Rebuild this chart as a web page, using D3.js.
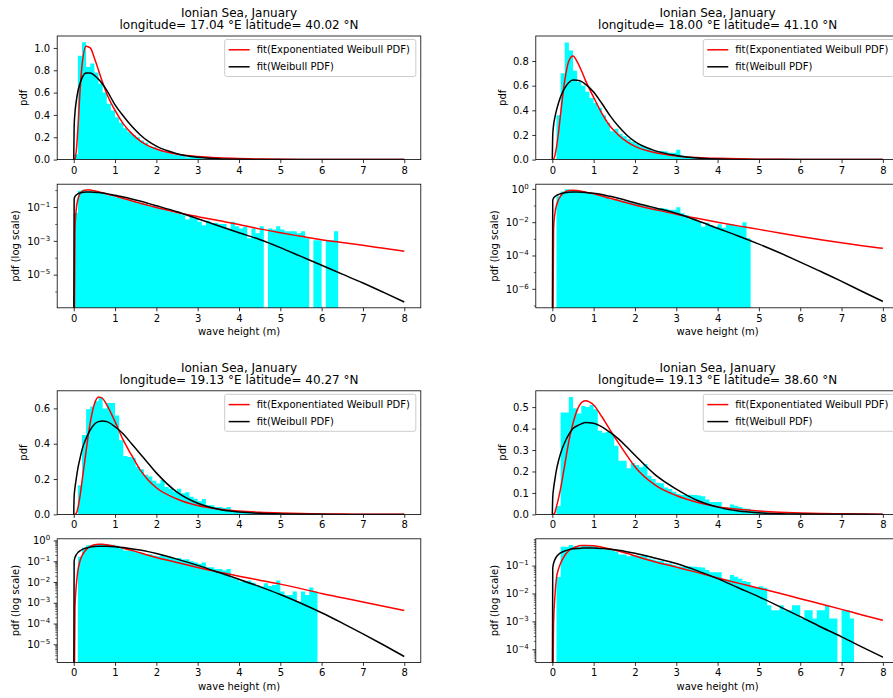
<!DOCTYPE html>
<html>
<head>
<meta charset="utf-8">
<script src="https://cdn.jsdelivr.net/npm/d3@7"></script>
<style>
  body { margin: 0; background: #fff; }
  svg { display: block; }
  text { font-family: 'DejaVu Sans', sans-serif; }
</style>
</head>
<body>
<svg id="chart" width="893" height="698"></svg>
<script>
// ---------------- DATA ----------------
const titleLine1 = ["Ionian Sea, January", "Ionian Sea, January", "Ionian Sea, January", "Ionian Sea, January"];
const titleLine2 = [
  "longitude= 17.04 °E latitude= 40.02 °N",
  "longitude= 18.00 °E latitude= 41.10 °N",
  "longitude= 19.13 °E latitude= 40.27 °N",
  "longitude= 19.13 °E latitude= 38.60 °N"
];
const legendLabels = ["fit(Exponentiated Weibull PDF)", "fit(Weibull PDF)"];
const xLabel = "wave height (m)";
const yLabelLin = "pdf";
const yLabelLog = "pdf (log scale)";

const xTicks = [0, 1, 2, 3, 4, 5, 6, 7, 8];
const xDomain = [-0.4, 8.4];

// histogram densities, bins of width 0.1 starting at 0.0
const histStart = 0.0;
const binWidth = 0.1;
const hist1 = [0.045, 0.93, 1.05, 0.83, 0.86, 0.78, 0.68, 0.6, 0.5, 0.44,
  0.38, 0.33, 0.28, 0.25, 0.22, 0.2, 0.17, 0.15, 0.12, 0.11,
  0.09, 0.078, 0.066, 0.055, 0.046, 0.04, 0.033, 0.0186, 0.027, 0.021,
  0.0135, 0.0085, 0.0155, 0.0107, 0.0117, 0.0098, 0.0098, 0.0054, 0.0135, 0.0074,
  0.0054, 0.0068, 0.0014, 0.0054, 0.0028, 0.0074, 0, 0.0054, 0.0047, 0.0074,
  0.0047, 0.0037, 0.0037, 0.0037, 0.0028, 0.0037, 0.0014, 0, 0.0011, 0.0011,
  0, 0.0011, 0.0011, 0.0037];
const hist2 = [0, 0.36, 0.70, 0.95, 0.885, 0.72, 0.63, 0.6, 0.55, 0.5,
  0.46, 0.42, 0.36, 0.3, 0.23, 0.25, 0.21, 0.19, 0.165, 0.145,
  0.13, 0.115, 0.1, 0.088, 0.075, 0.065, 0.07, 0.065, 0.055, 0.055,
  0.08, 0.034, 0.027, 0.015, 0.017, 0.011, 0.0054, 0.0093, 0.0068, 0.0054,
  0.0074, 0.0047, 0.0074, 0.0074, 0.0062, 0.0054, 0.0098, 0.0011];
const hist3 = [0, 0.165, 0.45, 0.595, 0.61, 0.64, 0.665, 0.6, 0.63, 0.63,
  0.56, 0.42, 0.33, 0.325, 0.32, 0.27, 0.255, 0.225, 0.215, 0.19,
  0.175, 0.195, 0.155, 0.145, 0.13, 0.145, 0.12, 0.125, 0.1, 0.088,
  0.075, 0.087, 0.052, 0.052, 0.042, 0.042, 0.036, 0.042, 0.015, 0.0137,
  0.0105, 0.0105, 0.0118, 0.0093, 0.0072, 0.006, 0.0087, 0.0065, 0.0072, 0.0118,
  0.0035, 0.0024, 0.0024, 0.0035, 0.00115, 0.0035, 0.0024, 0.0054, 0.0035];
const hist4 = [0, 0.039, 0.475, 0.475, 0.547, 0.495, 0.47, 0.505, 0.5, 0.51,
  0.49, 0.39, 0.38, 0.385, 0.375, 0.32, 0.25, 0.25, 0.215, 0.24,
  0.23, 0.22, 0.235, 0.18, 0.165, 0.148, 0.145, 0.125, 0.118, 0.105,
  0.095, 0.09, 0.09, 0.092, 0.09, 0.088, 0.085, 0.07, 0.058, 0.058,
  0.058, 0.034, 0.032, 0.046, 0.04, 0.034, 0.028, 0.026, 0.017, 0.017,
  0.018, 0.016, 0.0038, 0.0025, 0.0025, 0.0038, 0.0025, 0.0025, 0.0038, 0.0038,
  0.00126, 0.0025, 0.0025, 0.00126, 0.0025, 0.0025, 0.0038, 0.00126, 0.00126, 0,
  0.0025, 0.0025, 0.00126];

const curveX = [0, 0.01, 0.03, 0.06, 0.1, 0.15, 0.2, 0.3, 0.4, 0.5, 0.6, 0.7, 0.8, 1.0, 1.2, 1.4, 1.6, 1.8, 2.0,
  2.5, 3.0, 3.5, 4.0, 4.5, 5.0, 5.5, 6.0, 6.5, 7.0, 7.5, 8.0];
const expWeibull1 = [0, 0, 0.004, 0.07, 0.27, 0.6, 0.84, 1.015, 1.0, 0.91, 0.8, 0.69, 0.59, 0.44, 0.32, 0.235, 0.17, 0.125, 0.095,
  0.048, 0.027, 0.0158, 0.0093, 0.0051, 0.003, 0.00186, 0.00117, 7.9e-4, 5.4e-4, 3.6e-4, 2.45e-4];
const weibull1 = [0, 0.29, 0.42, 0.52, 0.61, 0.68, 0.73, 0.775, 0.775, 0.755, 0.72, 0.675, 0.62, 0.49, 0.39, 0.30, 0.225, 0.165, 0.12,
  0.053, 0.0204, 0.0078, 0.003, 0.0012, 4.0e-4, 1.2e-4, 3.6e-5, 1.07e-5, 3.2e-6, 8.9e-7, 2.4e-7];
const expWeibull2 = [0, 0, 0.004, 0.03, 0.1, 0.22, 0.37, 0.64, 0.8, 0.84, 0.795, 0.725, 0.645, 0.505, 0.375, 0.27, 0.2, 0.145, 0.107,
  0.056, 0.030, 0.017, 0.01, 0.006, 0.0037, 0.00224, 0.00138, 8.7e-4, 5.75e-4, 3.9e-4, 2.7e-4];
const weibull2 = [0, 0.2, 0.28, 0.34, 0.4, 0.46, 0.51, 0.58, 0.625, 0.645, 0.643, 0.635, 0.612, 0.548, 0.455, 0.355, 0.27, 0.2, 0.145,
  0.071, 0.034, 0.0126, 0.0043, 0.00148, 4.8e-4, 1.45e-4, 4.0e-5, 1.1e-5, 2.8e-6, 6.9e-7, 1.74e-7];
const expWeibull3 = [0, 0, 0.0005, 0.006, 0.034, 0.1, 0.185, 0.36, 0.52, 0.625, 0.665, 0.656, 0.62, 0.525, 0.42, 0.335, 0.255, 0.195, 0.151,
  0.087, 0.05, 0.030, 0.019, 0.0123, 0.0079, 0.0048, 0.0028, 0.00174, 0.0011, 6.8e-4, 4.2e-4];
const weibull3 = [0, 0.1, 0.15, 0.2, 0.26, 0.315, 0.365, 0.43, 0.478, 0.51, 0.525, 0.528, 0.525, 0.496, 0.455, 0.4, 0.345, 0.29, 0.235,
  0.126, 0.063, 0.0295, 0.0135, 0.006, 0.0025, 9.5e-4, 3.3e-4, 1.05e-4, 3.2e-5, 9.3e-6, 2.6e-6];
const expWeibull4 = [0, 0, 0.0008, 0.007, 0.036, 0.075, 0.12, 0.23, 0.34, 0.424, 0.486, 0.52, 0.53, 0.51, 0.455, 0.393, 0.333, 0.276, 0.222,
  0.135, 0.088, 0.057, 0.036, 0.0235, 0.0155, 0.0102, 0.0065, 0.0042, 0.0027, 0.0017, 0.0011];
const weibull4 = [0, 0.08, 0.12, 0.16, 0.207, 0.25, 0.284, 0.335, 0.373, 0.4, 0.413, 0.422, 0.428, 0.425, 0.408, 0.382, 0.352, 0.315, 0.276,
  0.183, 0.118, 0.066, 0.034, 0.016, 0.0076, 0.0034, 0.00148, 6.3e-4, 2.8e-4, 1.2e-4, 5.2e-5];

// axis limits and ticks
const linYMax = [1.107, 1.003, 0.6995, 0.576];
const linTicks = [
  [0, 0.2, 0.4, 0.6, 0.8, 1.0],
  [0, 0.2, 0.4, 0.6, 0.8],
  [0, 0.2, 0.4, 0.6],
  [0, 0.1, 0.2, 0.3, 0.4, 0.5]
];
const logYExtent = [[-6.96, 0.35], [-7.14, 0.28], [-5.87, 0.08], [-4.47, -0.04]]; // log10 limits
const logMajorExp = [[-1, -3, -5], [0, -2, -4, -6], [0, -1, -2, -3, -4, -5], [-1, -2, -3, -4]];

const hists = [hist1, hist2, hist3, hist4];
const ewCurves = [expWeibull1, expWeibull2, expWeibull3, expWeibull4];
const wbCurves = [weibull1, weibull2, weibull3, weibull4];

// ---------------- LAYOUT ----------------
const W = 893, H = 698;
const colLeft = [57.2, 535.8];
const axW = 363.6, axH = 123.6;
const linTop = [36, 390.8];
const logTop = [184.2, 538.8];
const FONT = "'DejaVu Sans', sans-serif";

const svg = d3.select('#chart');
svg.append('rect').attr('width', W).attr('height', H).attr('fill', '#fff');
const defs = svg.append('defs');

function styleAxis(g) {
  g.select('.domain').remove();
  g.attr('font-family', FONT).attr('font-size', 10);
  g.selectAll('.tick line').attr('stroke', '#000').attr('stroke-width', 0.8);
  g.selectAll('.tick text').attr('fill', '#000');
}

function clipFor(id, x0, y0) {
  defs.append('clipPath').attr('id', id)
    .append('rect').attr('x', x0).attr('y', y0).attr('width', axW).attr('height', axH);
  return 'url(#' + id + ')';
}

// histogram outline as one step path per contiguous run of non-empty bins (no seams)
function histPath(bins, x, y, base) {
  const p = d3.path();
  let open = false, lastX = 0;
  bins.forEach((b, k) => {
    if (b.v > 0) {
      if (!open) { p.moveTo(x(b.x0), base); open = true; }
      p.lineTo(x(b.x0), y(b.v));
      p.lineTo(x(b.x1), y(b.v));
      lastX = x(b.x1);
    }
    const endRun = open && (b.v <= 0 || k === bins.length - 1);
    if (endRun) {
      p.lineTo(b.v > 0 ? x(b.x1) : lastX, base);
      p.closePath();
      open = false;
    }
  });
  return p.toString();
}

hists.forEach((hist, i) => {
  const col = i % 2, row = Math.floor(i / 2);
  const left = colLeft[col], right = left + axW;
  const cx = left + axW / 2;
  const x = d3.scaleLinear().domain(xDomain).range([left, right]);

  const bins = hist.map((v, k) => ({ x0: histStart + k * binWidth, x1: histStart + (k + 1) * binWidth, v }));
  const ewPts = curveX.map((xx, k) => [xx, ewCurves[i][k]]);
  const wbPts = curveX.map((xx, k) => [xx, wbCurves[i][k]]);

  // ---------- linear panel ----------
  const lt = linTop[row], lb = lt + axH;
  const yl = d3.scaleLinear().domain([0, linYMax[i]]).range([lb, lt]);
  const gL = svg.append('g');
  const plotL = gL.append('g').attr('clip-path', clipFor('clipL' + i, left, lt));
  plotL.append('path').attr('d', histPath(bins, x, yl, yl(0))).attr('fill', '#00ffff');
  const lineL = d3.line().x(d => x(d[0])).y(d => yl(d[1])).curve(d3.curveMonotoneX);
  plotL.append('path').attr('d', lineL(ewPts)).attr('fill', 'none').attr('stroke', '#ff0000').attr('stroke-width', 1.5);
  plotL.append('path').attr('d', lineL(wbPts)).attr('fill', 'none').attr('stroke', '#000').attr('stroke-width', 1.5);

  gL.append('g').attr('transform', `translate(0,${lb})`)
    .call(d3.axisBottom(x).tickValues(xTicks).tickFormat(d3.format('d')).tickSizeInner(3.5).tickSizeOuter(0).tickPadding(3.5))
    .call(styleAxis);
  gL.append('g').attr('transform', `translate(${left},0)`)
    .call(d3.axisLeft(yl).tickValues(linTicks[i]).tickFormat(d3.format('.1f')).tickSizeInner(3.5).tickSizeOuter(0).tickPadding(3.5))
    .call(styleAxis);
  gL.append('rect').attr('x', left).attr('y', lt).attr('width', axW).attr('height', axH)
    .attr('fill', 'none').attr('stroke', '#000').attr('stroke-width', 0.8);

  // titles
  gL.append('text').attr('x', cx).attr('y', lt - 19).attr('text-anchor', 'middle')
    .attr('font-size', 12).attr('fill', '#000').text(titleLine1[i]);
  gL.append('text').attr('x', cx).attr('y', lt - 6.7).attr('text-anchor', 'middle')
    .attr('font-size', 12).attr('fill', '#000').text(titleLine2[i]);
  // y label
  const ylx = col === 0 ? 26.6 : 505.9;
  gL.append('text').attr('transform', `translate(${ylx},${lt + axH / 2}) rotate(-90)`)
    .attr('text-anchor', 'middle').attr('font-size', 10).attr('fill', '#000').text(yLabelLin);

  // legend
  const lg = gL.append('g');
  const box = lg.append('rect').attr('fill', '#fff').attr('fill-opacity', 0.8)
    .attr('stroke', '#cccccc').attr('stroke-width', 1).attr('rx', 2).attr('ry', 2);
  const colors = ['#ff0000', '#000'];
  let maxLen = 0;
  const texts = [];
  legendLabels.forEach((lab) => {
    const t = lg.append('text').attr('font-size', 10).attr('fill', '#000').text(lab);
    texts.push(t);
    maxLen = Math.max(maxLen, t.node().getComputedTextLength());
  });
  const lgW = maxLen + 38, lgH = 37;
  const lgX = right - 5 - lgW, lgY = lt + 3.5;
  box.attr('x', lgX).attr('y', lgY).attr('width', lgW).attr('height', lgH);
  legendLabels.forEach((lab, k) => {
    const yy = lgY + 10.3 + k * 17;
    lg.append('line').attr('x1', lgX + 4).attr('x2', lgX + 25).attr('y1', yy).attr('y2', yy)
      .attr('stroke', colors[k]).attr('stroke-width', 1.5);
    texts[k].attr('x', lgX + 32).attr('y', yy + 3.6);
  });

  // ---------- log panel ----------
  const gt = logTop[row], gb = gt + axH;
  const ext = logYExtent[i];
  const yg = d3.scaleLog().domain([Math.pow(10, ext[0]), Math.pow(10, ext[1])]).range([gb, gt]);
  const gG = svg.append('g');
  const plotG = gG.append('g').attr('clip-path', clipFor('clipG' + i, left, gt));
  plotG.append('path').attr('d', histPath(bins, x, yg, gb + 2)).attr('fill', '#00ffff');
  const lineG = d3.line().x(d => x(d[0])).y(d => d[1] > 0 ? yg(d[1]) : gb + 40).curve(d3.curveMonotoneX);
  plotG.append('path').attr('d', lineG(ewPts)).attr('fill', 'none').attr('stroke', '#ff0000').attr('stroke-width', 1.5);
  plotG.append('path').attr('d', lineG(wbPts)).attr('fill', 'none').attr('stroke', '#000').attr('stroke-width', 1.5);

  gG.append('g').attr('transform', `translate(0,${gb})`)
    .call(d3.axisBottom(x).tickValues(xTicks).tickFormat(d3.format('d')).tickSizeInner(3.5).tickSizeOuter(0).tickPadding(3.5))
    .call(styleAxis);

  // minor ticks
  const majors = logMajorExp[i];
  const stride = majors.length > 1 ? Math.abs(majors[1] - majors[0]) : 1;
  const minors = [];
  const lo = Math.floor(ext[0]), hi = Math.ceil(ext[1]);
  for (let e = lo; e <= hi; e++) {
    if (stride > 1) {
      if (!majors.includes(e) && e >= ext[0] && e <= ext[1]) minors.push(Math.pow(10, e));
    } else {
      for (let s = 2; s <= 9; s++) {
        const lv = e + Math.log10(s);
        if (lv >= ext[0] && lv <= ext[1]) minors.push(s * Math.pow(10, e));
      }
    }
  }
  gG.append('g').attr('transform', `translate(${left},0)`)
    .call(d3.axisLeft(yg).tickValues(minors).tickFormat(() => '').tickSizeInner(2).tickSizeOuter(0))
    .call(styleAxis)
    .selectAll('.tick line').attr('stroke-width', 0.6);
  const majAxis = gG.append('g').attr('transform', `translate(${left},0)`)
    .call(d3.axisLeft(yg).tickValues(majors.map(e => Math.pow(10, e))).tickFormat(() => '').tickSizeInner(3.5).tickSizeOuter(0).tickPadding(3.5))
    .call(styleAxis);
  majAxis.selectAll('.tick text').each(function (d) {
    const e = Math.round(Math.log10(d));
    const t = d3.select(this);
    t.text(null);
    t.append('tspan').text('10');
    t.append('tspan').attr('font-size', 7).attr('dy', -4).text(e < 0 ? '\u2212' + Math.abs(e) : String(e));
  });
  gG.append('rect').attr('x', left).attr('y', gt).attr('width', axW).attr('height', axH)
    .attr('fill', 'none').attr('stroke', '#000').attr('stroke-width', 0.8);

  const ygx = col === 0 ? 19.3 : 497.6;
  gG.append('text').attr('transform', `translate(${ygx},${gt + axH / 2}) rotate(-90)`)
    .attr('text-anchor', 'middle').attr('font-size', 10).attr('fill', '#000').text(yLabelLog);
  gG.append('text').attr('x', cx).attr('y', gb + 27.5).attr('text-anchor', 'middle')
    .attr('font-size', 10).attr('fill', '#000').text(xLabel);
});
</script>
</body>
</html>
